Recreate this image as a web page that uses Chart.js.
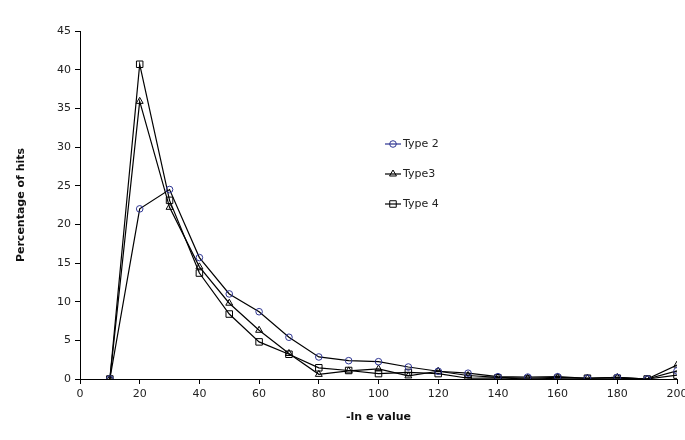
<!DOCTYPE html>
<html lang="en">

<head>
    <meta charset="UTF-8">
    <title>Percentage of hits</title>
    <style>
        html, body {
            margin: 0;
            padding: 0;
            background: #ffffff;
        }

        #holder {
            width: 685px;
            height: 440px;
        }
    </style>
</head>

<body>
    <div id="holder">
        <canvas id="graphCanvas" width="685" height="440"></canvas>
    </div>

    <script src="https://cdn.jsdelivr.net/npm/chart.js"></script>

    <script>
        // -ln e value bins
        const eValues = [10, 20, 30, 40, 50, 60, 70, 80, 90, 100, 110, 120, 130, 140, 150, 160, 170, 180, 190, 200];

        // percentage of hits per type
        const type2 = [0, 22.0, 24.5, 15.7, 11.0, 8.7, 5.4, 2.85, 2.37, 2.24, 1.55, 1.0, 0.75, 0.3, 0.25, 0.3, 0.1, 0.2, 0, 1.05];
        const type3 = [0, 35.9, 22.2, 14.5, 9.8, 6.3, 3.3, 0.6, 1.05, 1.3, 0.4, 1.0, 0.45, 0.2, 0.1, 0.2, 0.1, 0.2, 0, 1.8];
        const type4 = [0, 40.7, 23.1, 13.7, 8.4, 4.8, 3.2, 1.45, 1.1, 0.7, 0.85, 0.7, 0.1, 0.15, 0, 0.1, 0.1, 0.1, 0, 0.5];

        const seriesNames = ['Type 2', 'Type3', 'Type 4'];

        const toPoints = (vals) => vals.map((v, i) => ({ x: eValues[i], y: v }));

        const fontFamily = "'DejaVu Sans', Verdana, sans-serif";

        // legend drawn inside the plot, to the right of the peak
        const insideLegend = {
            id: 'insideLegend',
            afterDatasetsDraw(chart) {
                const c = chart.ctx;
                const x0 = 385, lineLen = 16, rowTop = 144, rowGap = 30;
                chart.data.datasets.forEach((ds, i) => {
                    const y = rowTop + i * rowGap;
                    c.save();
                    c.strokeStyle = ds.legendLineColor || '#000';
                    c.lineWidth = 1.2;
                    c.beginPath();
                    c.moveTo(x0, y);
                    c.lineTo(x0 + lineLen, y);
                    c.stroke();
                    c.strokeStyle = ds.pointBorderColor;
                    c.fillStyle = 'rgba(0,0,0,0)';
                    c.lineWidth = 1;
                    Chart.helpers.drawPoint(c, {
                        pointStyle: ds.pointStyle,
                        radius: ds.pointRadius,
                        borderWidth: 1
                    }, x0 + lineLen / 2, y);
                    c.fillStyle = '#222';
                    c.font = '11px ' + fontFamily;
                    c.textBaseline = 'middle';
                    c.fillText(ds.label, x0 + lineLen + 2, y);
                    c.restore();
                });
            }
        };

        const ctx = document.getElementById('graphCanvas').getContext('2d');
        const hitsChart = new Chart(ctx, {
            type: 'line',
            data: {
                datasets: [{
                    label: seriesNames[0],
                    data: toPoints(type2),
                    borderColor: '#000000',
                    borderWidth: 1.2,
                    pointStyle: 'circle',
                    pointRadius: 3.3,
                    pointBorderColor: '#2e3592',
                    pointBackgroundColor: 'rgba(0,0,0,0)',
                    pointBorderWidth: 1,
                    legendLineColor: '#2e3592'
                }, {
                    label: seriesNames[1],
                    data: toPoints(type3),
                    borderColor: '#000000',
                    borderWidth: 1.2,
                    pointStyle: 'triangle',
                    pointRadius: 4,
                    pointBorderColor: '#000000',
                    pointBackgroundColor: 'rgba(0,0,0,0)',
                    pointBorderWidth: 1
                }, {
                    label: seriesNames[2],
                    data: toPoints(type4),
                    borderColor: '#000000',
                    borderWidth: 1.2,
                    pointStyle: 'rect',
                    pointRadius: 4.6,
                    pointBorderColor: '#000000',
                    pointBackgroundColor: 'rgba(0,0,0,0)',
                    pointBorderWidth: 1
                }]
            },
            options: {
                responsive: false,
                animation: false,
                layout: {
                    padding: { left: 11, right: 0, top: 31, bottom: 12 }
                },
                plugins: {
                    legend: { display: false },
                    tooltip: { enabled: false }
                },
                scales: {
                    x: {
                        type: 'linear',
                        min: 0,
                        max: 200,
                        afterFit: (s) => { s.height = 49; s.paddingRight = 8; s.paddingLeft = 0; },
                        ticks: {
                            stepSize: 20,
                            color: '#222',
                            padding: 4,
                            maxRotation: 0,
                            font: { family: fontFamily, size: 11 }
                        },
                        grid: {
                            display: true,
                            drawOnChartArea: false,
                            drawTicks: true,
                            tickLength: 5,
                            color: '#000'
                        },
                        border: { display: true, color: '#000' },
                        title: {
                            display: true,
                            text: '-ln e value',
                            color: '#111',
                            padding: { top: 10 },
                            font: { family: fontFamily, size: 11, weight: 'bold' }
                        }
                    },
                    y: {
                        min: 0,
                        max: 45,
                        afterFit: (s) => { s.width = 69; },
                        ticks: {
                            stepSize: 5,
                            color: '#222',
                            padding: 4,
                            font: { family: fontFamily, size: 11 }
                        },
                        grid: {
                            display: true,
                            drawOnChartArea: false,
                            drawTicks: true,
                            tickLength: 5,
                            color: '#000'
                        },
                        border: { display: true, color: '#000' },
                        title: {
                            display: true,
                            text: 'Percentage of hits',
                            color: '#111',
                            padding: { bottom: 0 },
                            font: { family: fontFamily, size: 11, weight: 'bold' }
                        }
                    }
                }
            },
            plugins: [insideLegend]
        });
    </script>
</body>
</html>
